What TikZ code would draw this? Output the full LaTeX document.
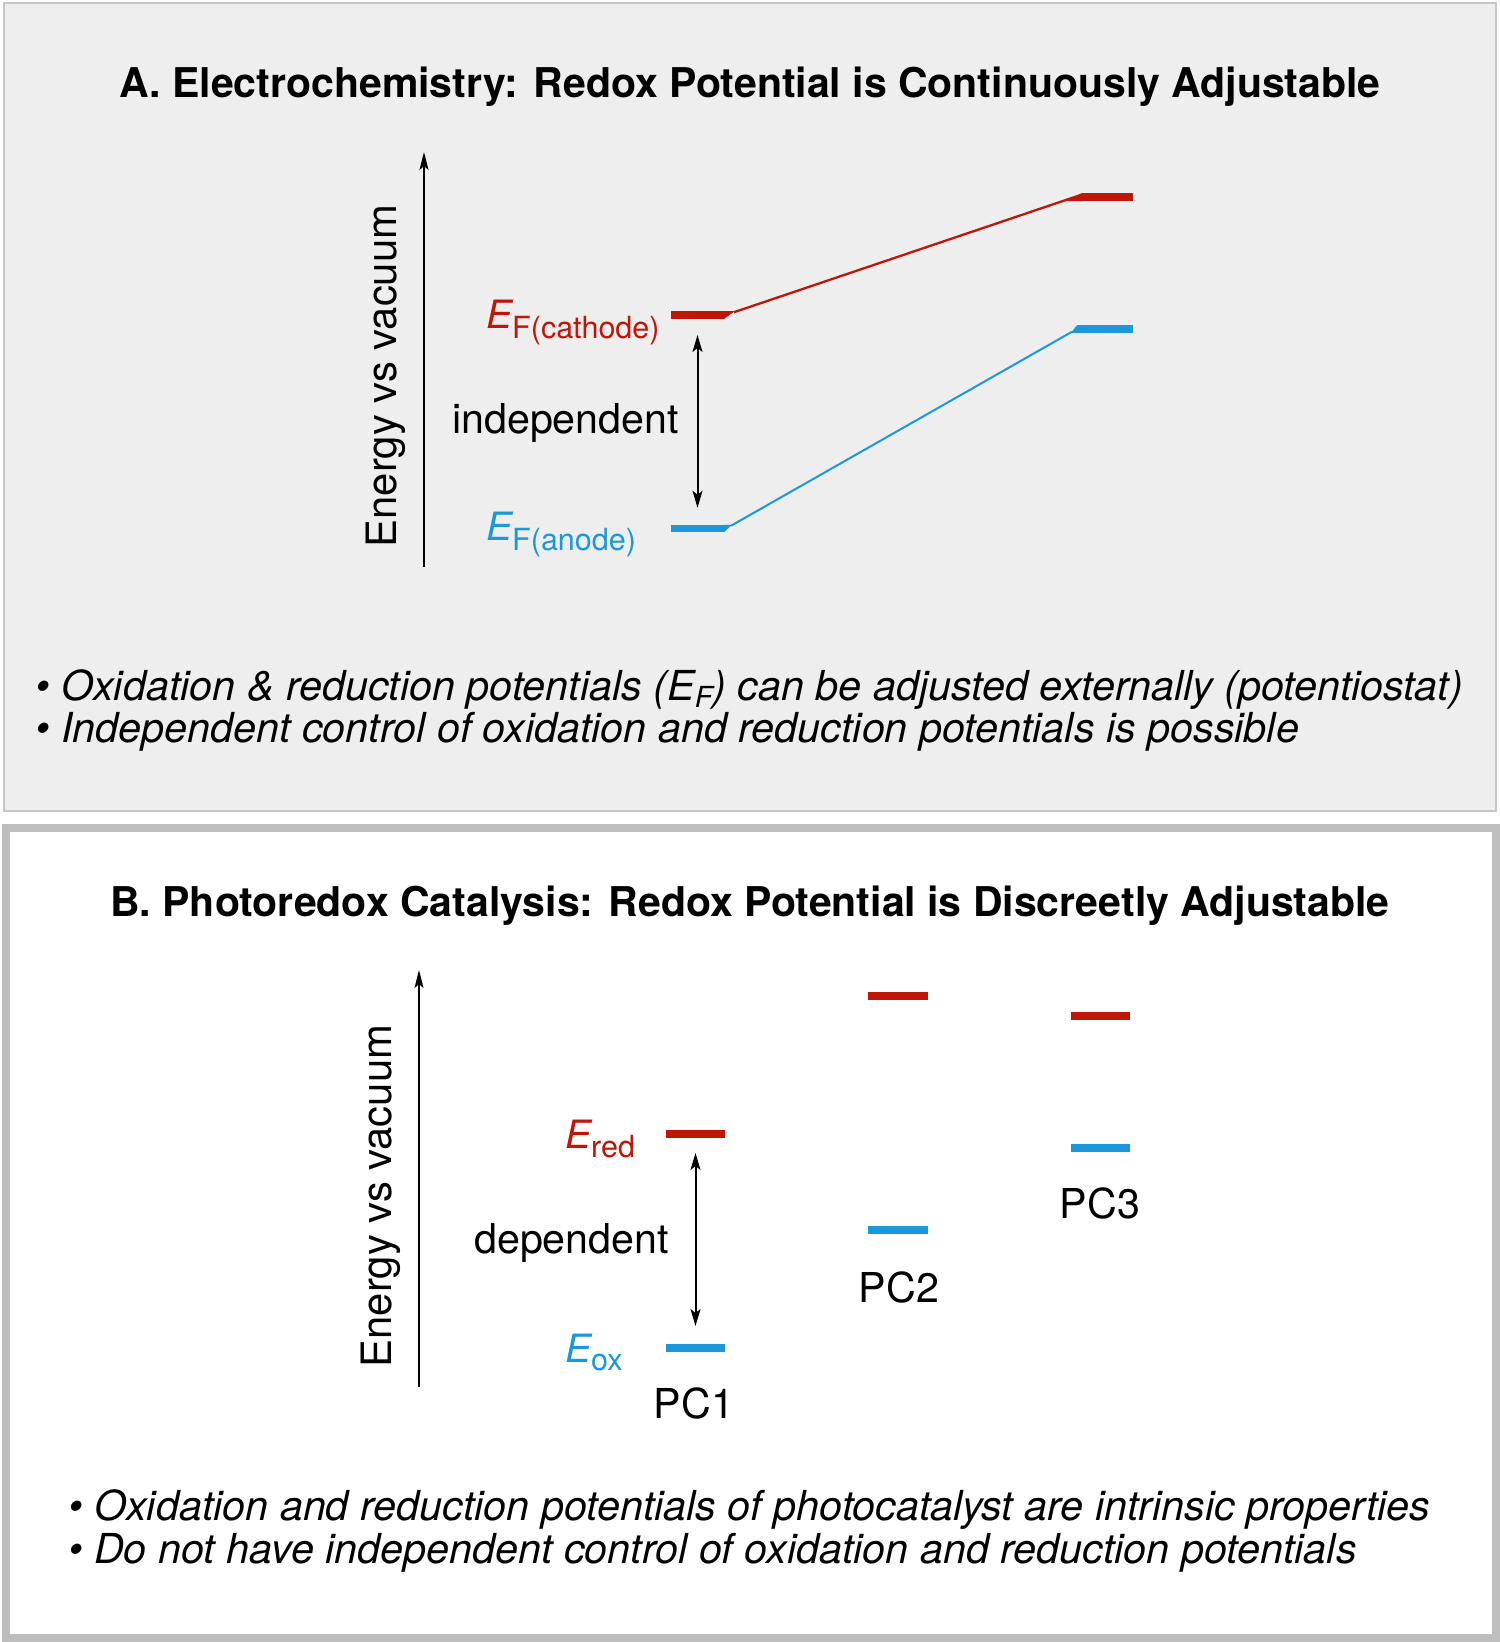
\documentclass[tikz,border=0pt]{standalone}
\usepackage{fontspec}
\setmainfont{TeX Gyre Heros}
\usetikzlibrary{arrows.meta,calc}
\definecolor{cred}{RGB}{192,22,8}
\definecolor{cblue}{RGB}{27,152,220}
\definecolor{panelgray}{RGB}{238,238,238}
\definecolor{borderA}{RGB}{198,198,198}
\definecolor{borderB}{RGB}{190,190,190}
\newcommand{\subtx}[2]{\raisebox{-#1}{\fontsize{30.5}{32}\selectfont\upshape #2}}
\begin{document}
\begin{tikzpicture}[x=1pt,y=-1pt,
  ttl/.style={inner sep=0pt, anchor=base, font=\fontsize{41}{48}\selectfont\bfseries},
  txt/.style={inner sep=0pt, font=\fontsize{41.2}{48}\selectfont},
  axlab/.style={inner sep=0pt, rotate=90, anchor=base, font=\fontsize{41.8}{48}\selectfont},
  bul/.style={inner sep=0pt, anchor=base west, font=\fontsize{41.3}{48}\selectfont\itshape},
  elab/.style={inner sep=0pt, anchor=base west, font=\fontsize{39}{48}\selectfont\itshape},
  axisarrow/.style={line width=2pt, -{Stealth[length=18pt,width=9pt,inset=4pt]}},
  dblarrow/.style={line width=2pt, {Stealth[length=17pt,width=10pt,inset=4pt]}-{Stealth[length=17pt,width=10pt,inset=4pt]}},
  lvl/.style={rectangle, inner sep=0pt, outer sep=0pt, draw=none, minimum height=8pt},
  redlvl/.style={lvl, fill=cred},
  bluelvl/.style={lvl, fill=cblue, minimum height=7.5pt},
  slope/.style={line width=2.3pt}
]
\useasboundingbox (0,0) rectangle (1500,1642);
\fill[white] (0,0) rectangle (1500,1642);

% ---------- Panel A ----------
\draw[borderA, fill=panelgray, line width=2pt] (4,3) rectangle (1496,811);
\node[ttl] (titleA) at (750,97) {A. Electrochemistry: Redox Potential is Continuously Adjustable};

\coordinate (axAb) at (424,567);
\coordinate (axAt) at (424,152);
\draw[axisarrow] (axAb) -- (axAt);
\node[axlab] (enA) at (396,376) {Energy vs vacuum};

\node[redlvl, minimum width=53pt] (catL) at (697.5,315) {};
\node[redlvl, minimum width=51pt] (catR) at (1107.5,197) {};
\node[bluelvl, minimum width=53pt] (anL) at (697.5,528.5) {};
\node[bluelvl, minimum width=56pt] (anR) at (1105,329) {};

\fill[cred] (catL.north east) -- ++(11,0) -- (catL.south east) -- cycle;
\fill[cred] (catR.north west) -- (catR.south west) -- ++(-15,0) -- cycle;
\draw[cred, slope] ($(catL.north east)+(10,1.2)$) -- ($(catR.north west)+(1,1.2)$);

\fill[cblue] (anL.north east) -- ++(8,0) -- (anL.south east) -- cycle;
\fill[cblue] (anR.north west) -- (anR.south west) -- ++(-6,0) -- cycle;
\draw[cblue, slope, line width=2pt] ($(anL.north east)+(7,1)$) -- ($(anR.south west)+(-5,-1)$);

\draw[dblarrow] ([yshift=-16pt]catL.south) -- ([yshift=17pt]anL.north);

\node[elab, text=cred] (labcat) at (486,328) {E\subtx{10pt}{F(cathode)}};
\node[elab, text=cblue] (laban) at (486,540) {E\subtx{10pt}{F(anode)}};
\node[txt, anchor=base west] (indep) at (452,433) {independent};

\node[bul] (bulA1) at (35,700) {\textbullet\ Oxidation \& reduction potentials (E\raisebox{-7pt}{\fontsize{29}{30}\selectfont F}) can be adjusted externally (potentiostat)};
\node[bul] (bulA2) at (35,742) {\textbullet\ Independent control of oxidation and reduction potentials is possible};

% ---------- Panel B ----------
\draw[borderB, fill=white, line width=8pt] (5.5,828) rectangle (1495.5,1637.5);
\node[ttl] (titleB) at (750,916) {B. Photoredox Catalysis: Redox Potential is Discreetly Adjustable};

\coordinate (axBb) at (419,1387);
\coordinate (axBt) at (419,970);
\draw[axisarrow] (axBb) -- (axBt);
\node[axlab] (enB) at (391,1196) {Energy vs vacuum};

\node[redlvl, minimum width=59pt] (r1) at (695.5,1134) {};
\node[bluelvl, minimum width=59pt, minimum height=8pt] (b1) at (695.5,1348) {};
\node[redlvl, minimum width=60pt] (r2) at (898,996) {};
\node[bluelvl, minimum width=60pt, minimum height=8pt] (b2) at (898,1230) {};
\node[redlvl, minimum width=59pt] (r3) at (1100.5,1016) {};
\node[bluelvl, minimum width=59pt, minimum height=8pt] (b3) at (1100.5,1148) {};

\draw[dblarrow] ([yshift=-15pt]r1.south) -- ([yshift=18pt]b1.north);

\node[elab, text=cred] (labred) at (565,1148) {E\subtx{9pt}{red}};
\node[elab, text=cblue] (labox) at (565,1362) {E\subtx{8pt}{ox}};
\node[txt, anchor=base west] (dep) at (474,1253) {dependent};

\node[txt, anchor=base] (pc1) at (694,1418) {PC1};
\node[txt, anchor=base] (pc2) at (899,1302) {PC2};
\node[txt, anchor=base] (pc3) at (1100,1218) {PC3};

\node[bul] (bulB1) at (68,1520) {\textbullet\ Oxidation and reduction potentials of photocatalyst are intrinsic properties};
\node[bul] (bulB2) at (68,1563) {\textbullet\ Do not have independent control of oxidation and reduction potentials};
\end{tikzpicture}
\end{document}
